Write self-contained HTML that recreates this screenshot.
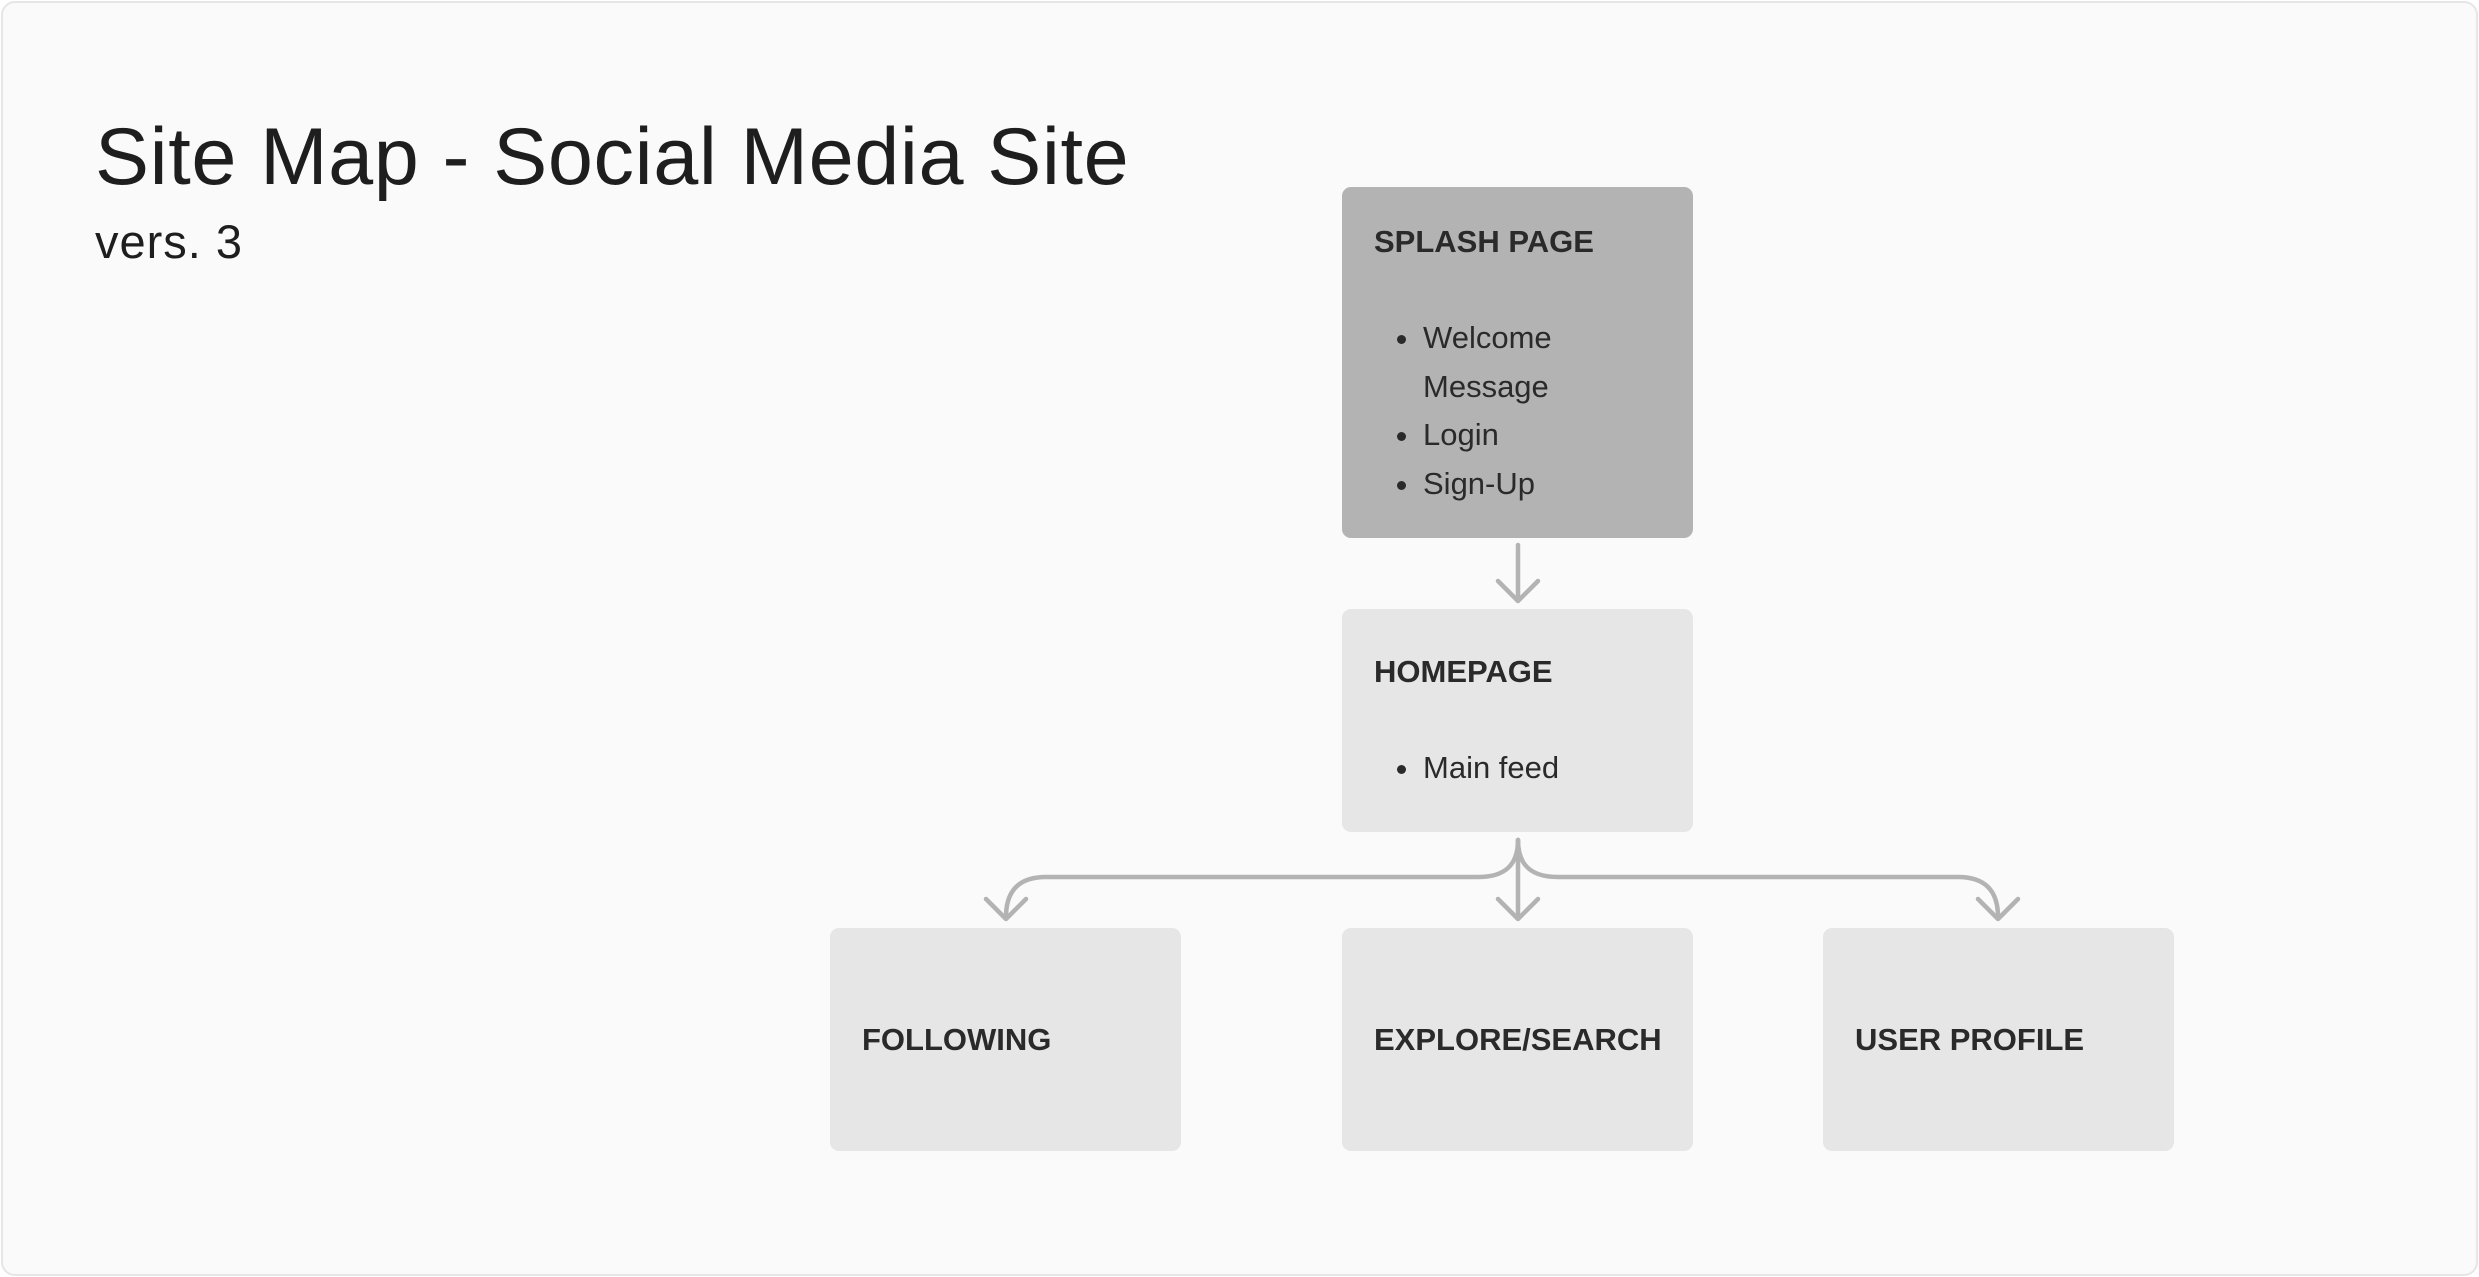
<!DOCTYPE html>
<html><head><meta charset="utf-8"><style>
html,body{margin:0;padding:0;background:#fff;}
body{width:2479px;height:1277px;position:relative;overflow:hidden;font-family:"Liberation Sans",sans-serif;}
.frame{position:absolute;left:1px;top:1px;width:2473px;height:1271px;border:2px solid #e6e6e6;border-radius:14px;background:#fafafa;}
.t1{position:absolute;left:95px;top:111px;font-size:81px;letter-spacing:0.6px;color:#1e1e1e;white-space:nowrap;}
.t2{position:absolute;left:95px;top:214px;font-size:47px;letter-spacing:1px;color:#1e1e1e;}
.box{position:absolute;width:351px;border-radius:9px;background:#e6e6e6;color:#2a2a2a;}
.h{position:absolute;left:32px;font-size:31px;font-weight:bold;white-space:nowrap;}
.li{position:absolute;left:81px;font-size:31px;white-space:nowrap;}
.dot{position:absolute;left:-26px;top:15px;width:9px;height:9px;border-radius:50%;background:#2a2a2a;}
</style></head><body>
<div class="frame"></div>
<div class="t1">Site Map - Social Media Site</div>
<div class="t2">vers. 3</div>

<div class="box" style="left:1342px;top:187px;height:351px;background:#b3b3b3;">
  <div class="h" style="top:37px;">SPLASH PAGE</div>
  <div class="li" style="top:133px;"><span class="dot"></span>Welcome</div>
  <div class="li" style="top:182px;">Message</div>
  <div class="li" style="top:230px;"><span class="dot"></span>Login</div>
  <div class="li" style="top:279px;"><span class="dot"></span>Sign-Up</div>
</div>
<div class="box" style="left:1342px;top:609px;height:223px;">
  <div class="h" style="top:45px;">HOMEPAGE</div>
  <div class="li" style="top:141px;"><span class="dot"></span>Main feed</div>
</div>
<div class="box" style="left:830px;top:928px;height:223px;"><div class="h" style="top:94px;">FOLLOWING</div></div>
<div class="box" style="left:1342px;top:928px;height:223px;"><div class="h" style="top:94px;">EXPLORE/SEARCH</div></div>
<div class="box" style="left:1823px;top:928px;height:223px;"><div class="h" style="top:94px;">USER PROFILE</div></div>

<svg width="2479" height="1277" style="position:absolute;left:0;top:0" fill="none" stroke="#b3b3b3" stroke-width="4.5" stroke-linecap="round" stroke-linejoin="round">
  <path d="M1518 545 L1518 600"/>
  <polyline points="1498,581 1518,601 1538,581"/>
  <path d="M1518 840 L1518 918"/>
  <polyline points="1498,899 1518,919 1538,899"/>
  <path d="M1518 840 C1518 866 1504 877 1478 877 L1046 877 Q1006 877 1006 917"/>
  <polyline points="986,899 1006,919 1026,899"/>
  <path d="M1518 840 C1518 866 1532 877 1558 877 L1958 877 Q1998 877 1998 917"/>
  <polyline points="1978,899 1998,919 2018,899"/>
</svg>
</body></html>
